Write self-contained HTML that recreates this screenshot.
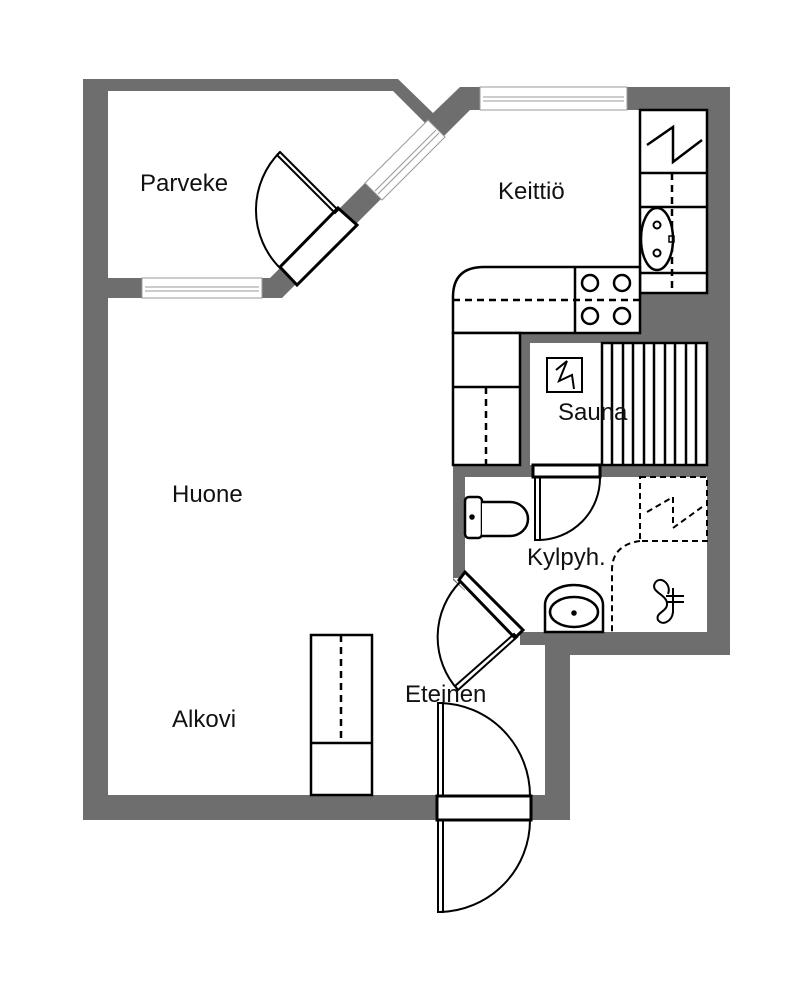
<!DOCTYPE html>
<html><head><meta charset="utf-8"><style>
html,body{margin:0;padding:0;background:#fff;width:798px;height:994px;overflow:hidden}
svg{display:block}
text{font-family:"Liberation Sans Narrow","Liberation Sans",sans-serif;font-size:24px;fill:#111}
</style></head><body>
<svg width="798" height="994" viewBox="0 0 798 994" xmlns="http://www.w3.org/2000/svg">
<rect width="798" height="994" fill="#fff"/>
<!-- walls -->
<polygon points="83,79 398,79 433,113 460,87 730,87 730,655 570,655 570,820 83,820" fill="#6e6e6e"/>
<!-- interiors -->
<polygon points="108,91 393,91 425,123 270,278 108,278" fill="#fff"/>
<polygon points="108,298 282,298 470,110 707,110 707,293 640,293 640,333 520,333 520,465 453,465 453,580 520,640 520,645 545,645 545,795 108,795" fill="#fff"/>
<rect x="530" y="343" width="177" height="122" fill="#fff"/>
<rect x="465" y="477" width="242" height="155" fill="#fff"/>
<polygon points="453,578 465,578 465,632 520,632 520,645" fill="#fff"/>
<rect x="437" y="795" width="95" height="25" fill="#fff"/>
<!-- windows -->
<g stroke="#999" stroke-width="1" fill="#fff">
<rect x="480" y="87" width="147" height="23"/>
<line x1="483" y1="97" x2="624" y2="97"/><line x1="483" y1="101" x2="624" y2="101"/>
<rect x="142" y="278" width="120" height="20"/>
<line x1="145" y1="287" x2="259" y2="287"/><line x1="145" y1="291" x2="259" y2="291"/>
<polygon points="365,183 428,120 445,137 382,200"/>
<line x1="375" y1="191" x2="436" y2="130"/><line x1="378" y1="194" x2="439" y2="133"/>
</g>
<g fill="none" stroke="#000" stroke-width="2.5">
<!-- balcony door -->
<polygon points="338,208 357,225 297,285 280,267" fill="#fff" stroke-width="3"/>
<polygon points="280,152 338,210 335,213 277,155" stroke-width="2"/>
<path d="M280,152 A82,82 0 0 0 280,268" stroke-width="2"/>
<!-- kitchen right column -->
<rect x="640" y="110" width="67" height="183" fill="#fff"/>
<line x1="640" y1="173" x2="707" y2="173"/>
<line x1="640" y1="207" x2="707" y2="207"/>
<line x1="640" y1="273" x2="707" y2="273"/>
<line x1="672" y1="173" x2="672" y2="293" stroke-dasharray="7,5"/>
<polyline points="647,145 673,127 673,162 702,140"/>
<ellipse cx="657" cy="239" rx="16" ry="31" fill="#fff"/>
<circle cx="657" cy="225" r="3.5" stroke-width="2"/><circle cx="657" cy="253" r="3.5" stroke-width="2"/>
<rect x="669" y="236" width="5" height="6" stroke-width="1.5"/>
<!-- counter -->
<path d="M453,333 L453,297 Q453,267 484,267 L640,267 L640,333 Z" fill="#fff"/>
<line x1="575" y1="267" x2="575" y2="333"/>
<line x1="453" y1="300" x2="640" y2="300" stroke-dasharray="7,5"/>
<circle cx="590" cy="283" r="8"/><circle cx="622" cy="283" r="8"/>
<circle cx="590" cy="316" r="8"/><circle cx="622" cy="316" r="8"/>
<rect x="453" y="333" width="67" height="132" fill="#fff"/>
<line x1="453" y1="387" x2="520" y2="387"/>
<line x1="486" y1="387" x2="486" y2="465" stroke-dasharray="7,5"/>
<!-- sauna -->
<rect x="602" y="343" width="105" height="122"/>
<g stroke-width="2.5">
<line x1="612" y1="343" x2="612" y2="465"/><line x1="623" y1="343" x2="623" y2="465"/>
<line x1="633" y1="343" x2="633" y2="465"/><line x1="644" y1="343" x2="644" y2="465"/>
<line x1="654" y1="343" x2="654" y2="465"/><line x1="665" y1="343" x2="665" y2="465"/>
<line x1="675" y1="343" x2="675" y2="465"/><line x1="686" y1="343" x2="686" y2="465"/>
<line x1="696" y1="343" x2="696" y2="465"/>
</g>
<rect x="547" y="358" width="35" height="34" stroke-width="2"/>
<polyline points="556,370 567,361 559,381 572,375 574,389" stroke-width="2"/>
<!-- sauna door -->
<rect x="533" y="465" width="67" height="12" fill="#fff" stroke-width="3"/>
<rect x="535" y="477" width="5" height="63" stroke-width="2"/>
<path d="M600,477 A62,62 0 0 1 538,540" stroke-width="2"/>
<!-- toilet -->
<rect x="465" y="497" width="17" height="41" rx="4" fill="#fff"/>
<path d="M482,502 L510,502 A18,17 0 0 1 510,536 L482,536" fill="#fff"/>
<circle cx="472" cy="517" r="1.5" fill="#000"/>
<!-- sink -->
<path d="M545,632 L545,605 A29,20 0 0 1 603,605 L603,632 Z" fill="#fff"/>
<ellipse cx="574" cy="612" rx="24" ry="15"/>
<circle cx="574" cy="613" r="1.5" fill="#000"/>
<!-- shower -->
<g stroke-width="2" stroke-dasharray="6,4">
<rect x="640" y="477" width="67" height="64"/>
<path d="M640,541 Q612,545 612,570 L612,632"/>
<line x1="647" y1="512" x2="673" y2="497"/>
<line x1="673" y1="497" x2="673" y2="527"/>
<line x1="673" y1="528" x2="702" y2="507"/>
</g>
<path d="M668,594 C672,584 660,575 655,583 C650,592 666,594 667,603 C668,612 655,612 658,620 C662,626 672,622 673,612 L673,588 M666,596 L684,596 M666,602 L684,602" stroke-width="2"/>
<!-- hall-bath door -->
<polygon points="459,580 465,572 523,630 515,638" fill="#fff" stroke-width="3"/>
<polygon points="517,637 458,690 455,686 514,634" stroke-width="2"/>
<path d="M458,690 A79,79 0 0 1 460,582" stroke-width="2"/>
<!-- alkovi bed -->
<rect x="311" y="635" width="61" height="160" fill="#fff"/>
<line x1="311" y1="743" x2="372" y2="743"/>
<line x1="341" y1="635" x2="341" y2="743" stroke-dasharray="7,5"/>
<!-- entrance door -->
<rect x="437" y="796" width="94" height="24" fill="#fff" stroke-width="3"/>
<rect x="438" y="703" width="5" height="93" stroke-width="2"/>
<path d="M440,703 A92,93 0 0 1 530,796" stroke-width="2"/>
<rect x="438" y="820" width="5" height="92" stroke-width="2"/>
<path d="M530,820 A92,92 0 0 1 440,912" stroke-width="2"/>
</g>
<!-- labels -->
<text x="140" y="191">Parveke</text>
<text x="498" y="199">Keittiö</text>
<text x="172" y="502">Huone</text>
<text x="558" y="420">Sauna</text>
<text x="527" y="565">Kylpyh.</text>
<text x="405" y="702">Eteinen</text>
<text x="172" y="727">Alkovi</text>
</svg>
</body></html>
